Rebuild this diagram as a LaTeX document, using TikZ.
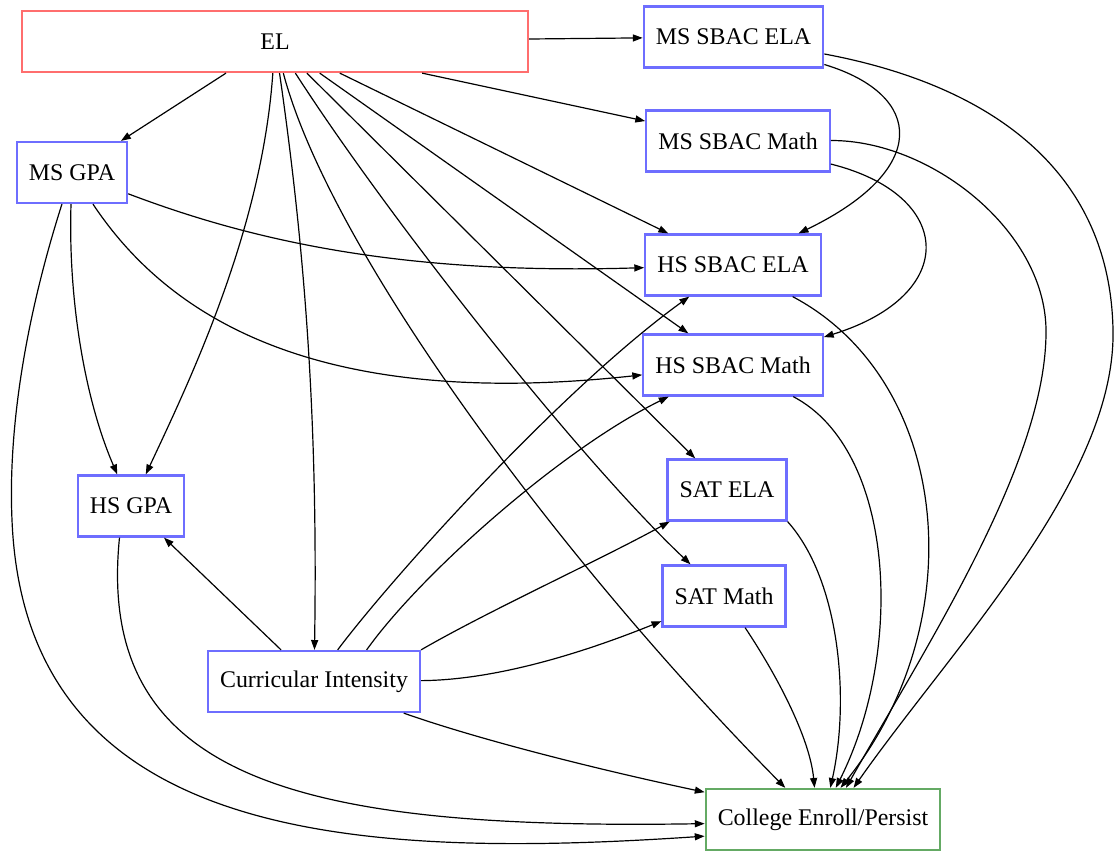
\documentclass[tikz,border=0pt]{standalone}
\usepackage{fontspec}
\setmainfont{Liberation Serif}
\usetikzlibrary{arrows.meta}
\definecolor{VarColor}{RGB}{110,110,255}
\definecolor{ExposureColor}{RGB}{255,110,110}
\definecolor{OutcomeColor}{RGB}{100,170,100}
\tikzstyle{varbox} = [rectangle, draw=VarColor, line width=1.6pt, minimum height=1.525cm, inner xsep=0.3cm, font=\fontsize{17}{20}\selectfont]
\tikzstyle{exposure} = [varbox, draw=ExposureColor, minimum width=12.65cm]
\tikzstyle{outcome} = [varbox, draw=OutcomeColor]
\tikzstyle{link} = [line width=0.85pt, black, -{Triangle[length=7pt,width=5pt]}]

\begin{document}
\begin{tikzpicture}[x=0.025cm, y=-0.025cm]
    \useasboundingbox (0,0) rectangle (1117,852);

    % Nodes
    \node[exposure] (el) at (275,41.5) {EL};
    \node[varbox] (mssbacela) at (733.5,37) {MS SBAC ELA};
    \node[varbox] (mssbacmath) at (738,141) {MS SBAC Math};
    \node[varbox] (msgpa) at (72,172.5) {MS GPA};
    \node[varbox] (hssbacela) at (733,265) {HS SBAC ELA};
    \node[varbox] (hssbacmath) at (733,365) {HS SBAC Math};
    \node[varbox] (hsgpa) at (131,506) {HS GPA};
    \node[varbox] (satela) at (727,490) {SAT ELA};
    \node[varbox] (satmath) at (724,596) {SAT Math};
    \node[varbox] (ci) at (314,681.5) {Curricular Intensity};
    \node[outcome] (college) at (823,819.5) {College Enroll/Persist};

    % From EL
    \draw[link] (el) -- (mssbacela);
    \draw[link] (el) -- (msgpa);
    \draw[link] (el) -- (mssbacmath);
    \draw[link] (el) -- (hssbacela);
    \draw[link] (el) -- (hssbacmath);
    \draw[link] (el) -- (satela);
    \draw[link] (el) .. controls (390,220) and (580,460) .. (satmath);
    \draw[link] (el) .. controls (330,250) and (560,560) .. (college.140);
    \draw[link] (el) .. controls (262,230) and (190,380) .. (hsgpa);
    \draw[link] (el) .. controls (305,250) and (318,420) .. (ci);

    % From MS GPA
    \draw[link] (msgpa) .. controls (68,300) and (85,400) .. (hsgpa);
    \draw[link] (msgpa) .. controls (250,240) and (400,275) .. (hssbacela);
    \draw[link] (msgpa) .. controls (170,320) and (320,410) .. (hssbacmath);
    \draw[link] (msgpa) .. controls (25,320) and (8,430) .. (12,520)
        .. controls (25,840) and (350,860) .. (college.188);

    % From HS GPA
    \draw[link] (hsgpa.250) .. controls (95,780) and (300,830) .. (college.182);

    % From Curricular Intensity
    \draw[link] (ci) -- (hsgpa);
    \draw[link] (ci) .. controls (390,580) and (560,390) .. (hssbacela);
    \draw[link] (ci.31) .. controls (420,575) and (560,450) .. (hssbacmath);
    \draw[link] (ci.north east) .. controls (490,610) and (600,560) .. (satela);
    \draw[link] (ci) .. controls (500,680) and (590,650) .. (satmath);
    \draw[link] (ci) .. controls (480,740) and (600,770) .. (college.167);

    % From MS SBAC
    \draw[link] (mssbacela) .. controls (925,95) and (930,170) .. (hssbacela);
    \draw[link] (mssbacela) .. controls (990,85) and (1110,170) .. (1113,330)
        .. controls (1116,480) and (950,650) .. (college.46);
    \draw[link] (mssbacmath) .. controls (955,195) and (960,295) .. (hssbacmath);
    \draw[link] (mssbacmath) .. controls (930,140) and (1045,230) .. (1046,330)
        .. controls (1047,460) and (930,640) .. (college.54);

    % From HS SBAC and SAT
    \draw[link] (hssbacela) .. controls (950,380) and (975,620) .. (college.61);
    \draw[link] (hssbacmath) .. controls (895,450) and (905,650) .. (college.68);
    \draw[link] (satela.south east) .. controls (840,580) and (850,700) .. (college.77);
    \draw[link] (satmath) .. controls (780,680) and (810,740) .. (college.105);
\end{tikzpicture}
\end{document}
